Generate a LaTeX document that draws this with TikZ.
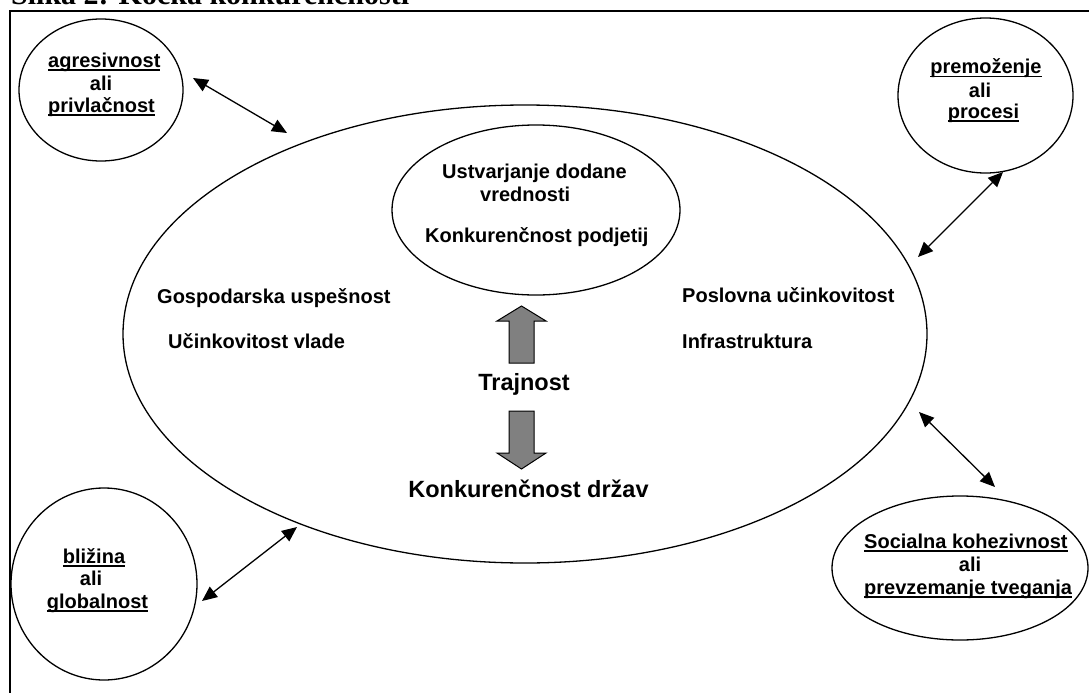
\documentclass[tikz,border=0pt]{standalone}
\usepackage{fontspec}
\setmainfont{Liberation Sans}
\newfontfamily\titlefont{Liberation Serif}
\usetikzlibrary{shapes.geometric,arrows.meta}
\definecolor{arrowgray}{HTML}{808080}
\newcommand{\myul}[1]{\setbox0=\hbox{#1}\rlap{\rule[-3.5pt]{\wd0}{1.6pt}}\box0}
\begin{document}
\begin{tikzpicture}[x=1pt,y=-1pt,
  oval/.style={ellipse, draw, line width=1.3pt, inner sep=0pt},
  lbl/.style={font=\bfseries\fontsize{20}{23}\selectfont, inner sep=0pt},
  biglbl/.style={font=\bfseries\fontsize{23.5}{27}\selectfont, inner sep=0pt},
  link/.style={line width=1.3pt, {Triangle[length=15pt,width=13pt]}-{Triangle[length=15pt,width=13pt]}},
  blockarrow/.style={draw, line width=1pt, fill=arrowgray, line join=miter},
  frameline/.style={line width=1.8pt}]
\useasboundingbox (0,0) rectangle (1089,693);

% partially visible caption and frame
\node[anchor=base west, inner sep=0pt, font=\titlefont\bfseries\fontsize{30}{30}\selectfont] (title) at (11,5) {Slika 2: Kocka konkurenčnosti};
\draw[frameline] (10,693) -- (10,11) -- (1089,11);

% ellipses
\node[oval, minimum width=804pt, minimum height=458pt] (big) at (525,334) {};
\node[oval, minimum width=288pt, minimum height=170pt] (inner) at (536,210) {};
\node[oval, minimum width=164pt, minimum height=142pt] (agr) at (101,90) {};
\node[oval, minimum width=175pt, minimum height=155pt] (prem) at (985.5,95.5) {};
\node[oval, minimum width=186pt, minimum height=192pt] (bliz) at (104,584) {};
\node[oval, minimum width=256pt, minimum height=144pt] (soc) at (960,568) {};

% circle texts
\node[lbl, anchor=base west] (agr1) at (48,67) {\myul{agresivnost}};
\node[lbl, anchor=base] (agr2) at (101,90) {ali};
\node[lbl, anchor=base west] (agr3) at (48,112) {\myul{privlačnost}};

\node[lbl, anchor=base] (prem1) at (986,74) {\myul{premoženje}};
\node[lbl, anchor=base] (prem2) at (980,97) {ali};
\node[lbl, anchor=base] (prem3) at (983.5,118) {\myul{procesi}};

\node[lbl, anchor=base] (bliz1) at (94,563) {\myul{bližina}};
\node[lbl, anchor=base] (bliz2) at (91,585) {ali};
\node[lbl, anchor=base] (bliz3) at (97.5,608) {\myul{globalnost}};

\node[lbl, anchor=base west] (soc1) at (864,548) {\myul{Socialna kohezivnost}};
\node[lbl, anchor=base] (soc2) at (970,571) {ali};
\node[lbl, anchor=base west] (soc3) at (864,594) {\myul{prevzemanje tveganja}};

% inner ellipse texts
\node[lbl, anchor=base west] (ust) at (442,178) {Ustvarjanje dodane};
\node[lbl, anchor=base west] (vred) at (480,201) {vrednosti};
\node[lbl, anchor=base west] (podj) at (425,242) {Konkurenčnost podjetij};

% big ellipse texts
\node[lbl, anchor=base west] (gosp) at (157,303) {Gospodarska uspešnost};
\node[lbl, anchor=base west] (vlad) at (168,348) {Učinkovitost vlade};
\node[lbl, anchor=base west] (posl) at (682,302) {Poslovna učinkovitost};
\node[lbl, anchor=base west] (infra) at (682,348) {Infrastruktura};

\node[biglbl, anchor=base] (traj) at (524,390) {Trajnost};
\node[biglbl, anchor=base] (drz) at (528.5,497) {Konkurenčnost držav};

% block arrows
\draw[blockarrow] (521.5,306) -- (546,321) -- (534,321) -- (534,363) -- (509,363) -- (509,321) -- (497,321) -- cycle;
\draw[blockarrow] (509,411) -- (534,411) -- (534,453) -- (546,453) -- (521.5,469) -- (497,453) -- (509,453) -- cycle;

% connector end points
\coordinate (a1) at (193,78);
\coordinate (a2) at (287,133);
\coordinate (b1) at (1003,172);
\coordinate (b2) at (918,257);
\coordinate (c1) at (297,527);
\coordinate (c2) at (202,601);
\coordinate (d1) at (919,412);
\coordinate (d2) at (995,487);

\draw[link] (a1) -- (a2);
\draw[link] (b1) -- (b2);
\draw[link] (c1) -- (c2);
\draw[link] (d1) -- (d2);
\end{tikzpicture}
\end{document}
